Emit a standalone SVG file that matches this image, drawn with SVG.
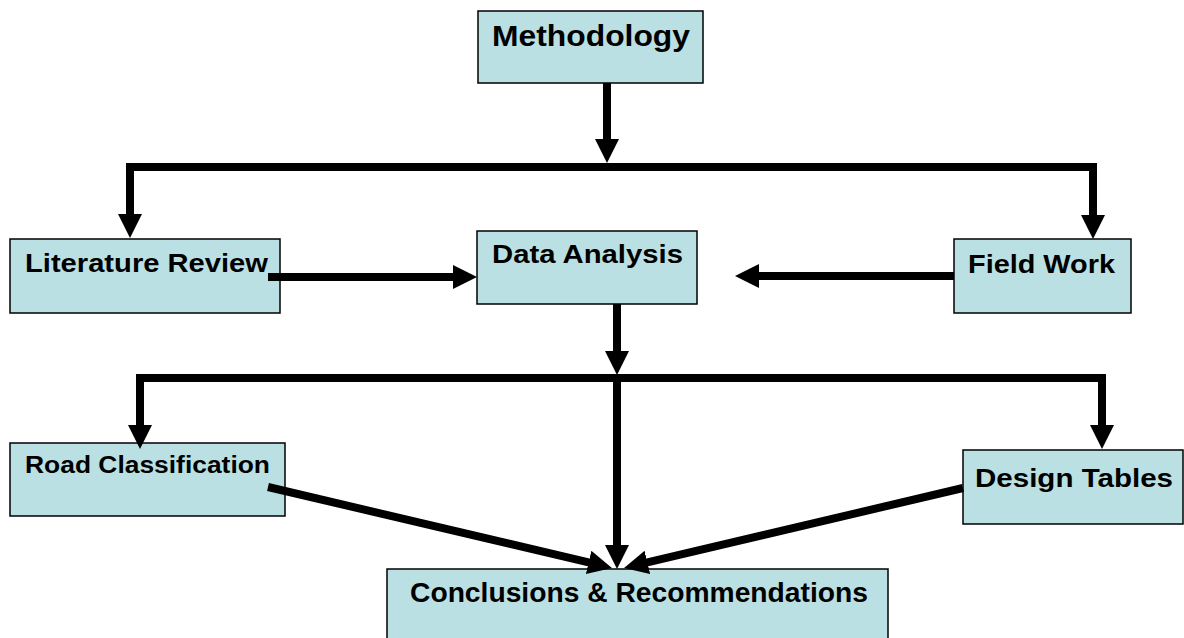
<svg xmlns="http://www.w3.org/2000/svg" width="1184" height="638" viewBox="0 0 1184 638">
<style>
.box{fill:#BAE0E3;stroke:#000;stroke-width:1.5}
.lbl{font-family:"Liberation Sans",Arial,sans-serif;font-weight:bold;fill:#000}
.con{fill:none;stroke:#000;stroke-width:8;stroke-linejoin:miter}
</style>
<defs>
<marker id="ah" markerUnits="userSpaceOnUse" markerWidth="24" markerHeight="24" refX="12" refY="12" orient="auto" viewBox="0 0 24 24">
<path d="M0,0 L24,12 L0,24 z" fill="#000"/>
</marker>
</defs>
<rect width="1184" height="638" fill="#fff"/>
<g id="methodology"><rect class="box" x="478" y="11" width="225" height="72"/><text class="lbl" x="492" y="46" font-size="30" textLength="198" lengthAdjust="spacingAndGlyphs">Methodology</text></g>
<g id="literature-review"><rect class="box" x="10" y="239" width="270" height="74"/><text class="lbl" x="25" y="272" font-size="25" textLength="243" lengthAdjust="spacingAndGlyphs">Literature Review</text></g>
<g id="data-analysis"><rect class="box" x="477" y="231" width="220" height="73"/><text class="lbl" x="492" y="263" font-size="26" textLength="191" lengthAdjust="spacingAndGlyphs">Data Analysis</text></g>
<g id="field-work"><rect class="box" x="954" y="239" width="177" height="74"/><text class="lbl" x="968" y="273" font-size="26" textLength="147" lengthAdjust="spacingAndGlyphs">Field Work</text></g>
<g id="road-classification"><rect class="box" x="10" y="443" width="275" height="73"/><text class="lbl" x="25" y="473" font-size="23" textLength="245" lengthAdjust="spacingAndGlyphs">Road Classification</text></g>
<g id="design-tables"><rect class="box" x="963" y="450" width="220" height="74"/><text class="lbl" x="975" y="487" font-size="26" textLength="198" lengthAdjust="spacingAndGlyphs">Design Tables</text></g>
<g id="conclusions"><rect class="box" x="387" y="569" width="501" height="80"/><text class="lbl" x="410" y="602" font-size="27" textLength="458" lengthAdjust="spacingAndGlyphs">Conclusions &amp; Recommendations</text></g>
<g id="connectors">
<path class="con" d="M607,83 V151" marker-end="url(#ah)"/>
<path class="con" d="M607,167 H130 V226" marker-end="url(#ah)"/>
<path class="con" d="M607,167 H1093 V227" marker-end="url(#ah)"/>
<path class="con" d="M268,277 H465" marker-end="url(#ah)"/>
<path class="con" d="M954,276 H747" marker-end="url(#ah)"/>
<path class="con" d="M617,304 V363" marker-end="url(#ah)"/>
<path class="con" d="M617,378 H140 V437" marker-end="url(#ah)"/>
<path class="con" d="M617,378 H1102 V437" marker-end="url(#ah)"/>
<path class="con" d="M617,378 V557" marker-end="url(#ah)"/>
<path class="con" d="M268,487 L600.3,565.2" marker-end="url(#ah)"/>
<path class="con" d="M963,488 L635.7,565.2" marker-end="url(#ah)"/>
</g>
</svg>
